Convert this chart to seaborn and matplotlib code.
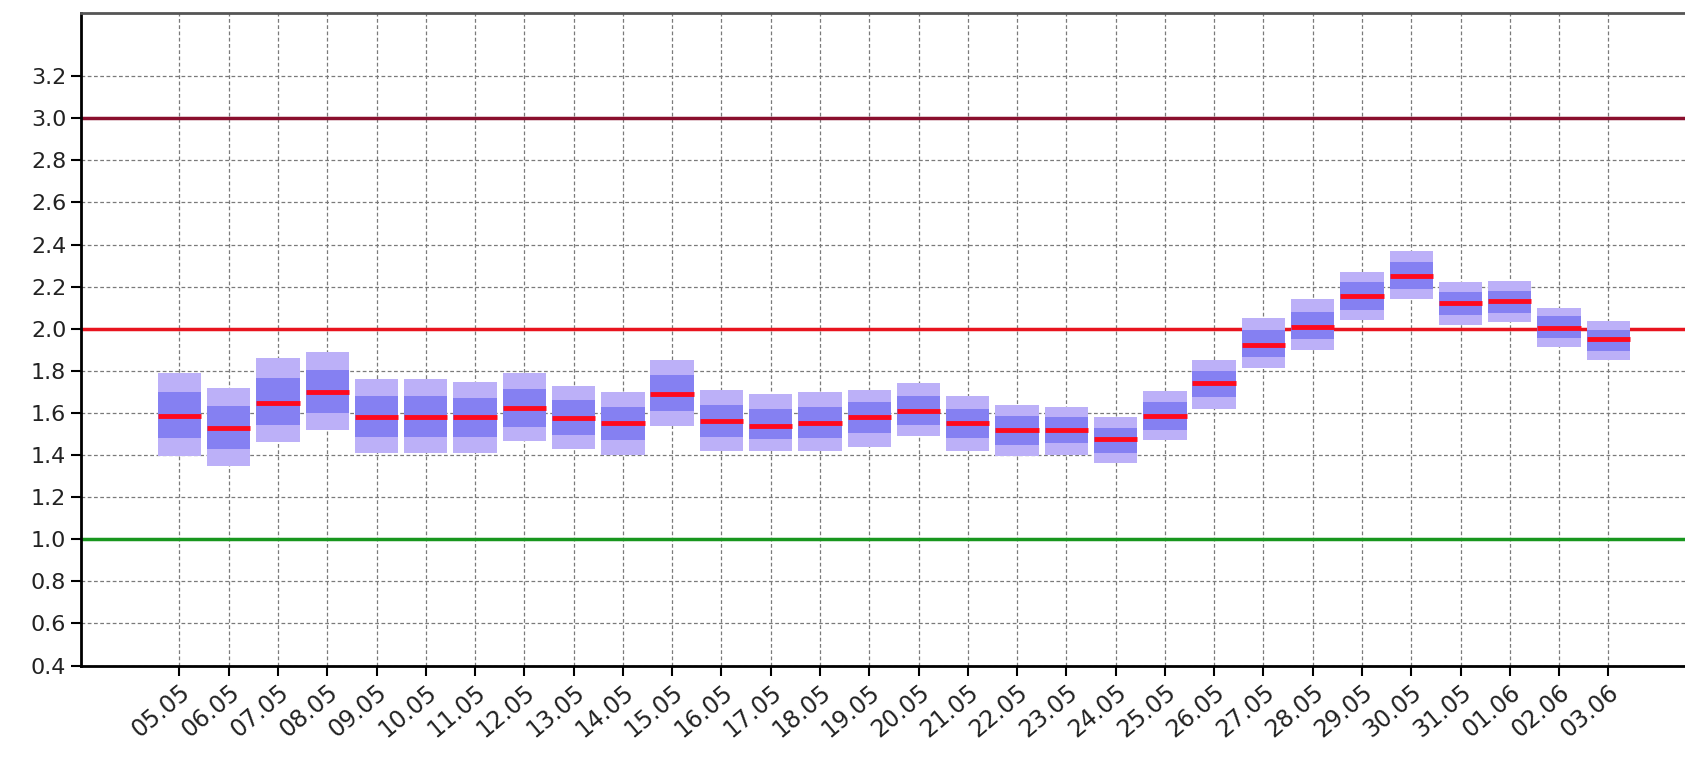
import numpy as np
import matplotlib
matplotlib.use("Agg")
import matplotlib.pyplot as plt
import seaborn as sns

# Даты (ось X)
dates = ['05.05', '06.05', '07.05', '08.05', '09.05', '10.05', '11.05', '12.05',
         '13.05', '14.05', '15.05', '16.05', '17.05', '18.05', '19.05', '20.05',
         '21.05', '22.05', '23.05', '24.05', '25.05', '26.05', '27.05', '28.05',
         '29.05', '30.05', '31.05', '01.06', '02.06', '03.06']

# Внешний диапазон (нижняя и верхняя граница)
outer_lo = [1.395, 1.35, 1.46, 1.52, 1.41, 1.41, 1.41, 1.465, 1.43, 1.40,
            1.54, 1.42, 1.42, 1.42, 1.44, 1.49, 1.42, 1.395, 1.40, 1.36,
            1.47, 1.62, 1.815, 1.90, 2.04, 2.14, 2.02, 2.03, 1.915, 1.85]
outer_hi = [1.79, 1.72, 1.86, 1.89, 1.76, 1.76, 1.745, 1.79, 1.73, 1.70,
            1.85, 1.71, 1.69, 1.70, 1.71, 1.74, 1.68, 1.64, 1.63, 1.58,
            1.705, 1.85, 2.05, 2.14, 2.27, 2.37, 2.22, 2.225, 2.10, 2.035]

# Внутренний диапазон
inner_lo = [1.48, 1.43, 1.545, 1.60, 1.485, 1.485, 1.485, 1.535, 1.495, 1.47,
            1.61, 1.485, 1.475, 1.48, 1.505, 1.545, 1.48, 1.45, 1.455, 1.41,
            1.52, 1.675, 1.865, 1.95, 2.09, 2.19, 2.065, 2.075, 1.955, 1.895]
inner_hi = [1.70, 1.635, 1.765, 1.805, 1.68, 1.68, 1.67, 1.715, 1.66, 1.63,
            1.78, 1.64, 1.62, 1.63, 1.65, 1.68, 1.62, 1.585, 1.58, 1.53,
            1.65, 1.80, 1.995, 2.08, 2.22, 2.315, 2.175, 2.18, 2.06, 1.995]

# Медиана
median = [1.585, 1.53, 1.645, 1.70, 1.58, 1.58, 1.58, 1.625, 1.575, 1.55,
          1.69, 1.56, 1.54, 1.55, 1.58, 1.61, 1.55, 1.52, 1.52, 1.475,
          1.585, 1.74, 1.925, 2.01, 2.155, 2.25, 2.12, 2.13, 2.005, 1.95]

# Пороговые линии
levels = [3.0, 2.0, 1.0]
level_colors = ['#8a0f2e', '#e8141e', '#18961e']

sns.set_style("white")

fig = plt.figure(figsize=(16.85, 7.63), dpi=100)
ax = fig.add_axes([0.048, 0.1277, 0.965, 0.8553])

x = np.arange(len(dates))
lo = np.array(outer_lo)
hi = np.array(outer_hi)
ilo = np.array(inner_lo)
ihi = np.array(inner_hi)
w = 0.88

ax.bar(x, hi - lo, bottom=lo, width=w, color='#bcb0f8', edgecolor='none', zorder=3)
ax.bar(x, ihi - ilo, bottom=ilo, width=w, color='#8580f2', edgecolor='none', zorder=4)
ax.hlines(median, x - w / 2, x + w / 2, colors='#ff0a1e', linewidth=3.5, zorder=5)

for lev, col in zip(levels, level_colors):
    ax.axhline(lev, color=col, linewidth=2.5, zorder=2)

ax.set_xlim(-2, 31)
ax.set_ylim(0.4, 3.5)
ax.set_yticks(np.arange(0.4, 3.21, 0.2))
ax.set_yticklabels([f"{v:.1f}" for v in np.arange(0.4, 3.21, 0.2)])
ax.set_xticks(x)
ax.set_xticklabels(dates, rotation=40, ha='right', rotation_mode='anchor')

ax.grid(True, color='#7a7a7a', linestyle=(0, (3, 2)), linewidth=0.9, zorder=0)
ax.set_axisbelow(True)

ax.tick_params(axis='both', length=7, width=1.5, color='black',
               labelcolor='#222222', direction='out', bottom=True, left=True)
ax.tick_params(axis='y', labelsize=16)
ax.tick_params(axis='x', labelsize=17)

for side in ['left', 'bottom']:
    ax.spines[side].set_color('black')
    ax.spines[side].set_linewidth(2)
ax.spines['top'].set_color('#555555')
ax.spines['top'].set_linewidth(2)
ax.spines['right'].set_visible(False)

plt.savefig("out.png", dpi=100)
